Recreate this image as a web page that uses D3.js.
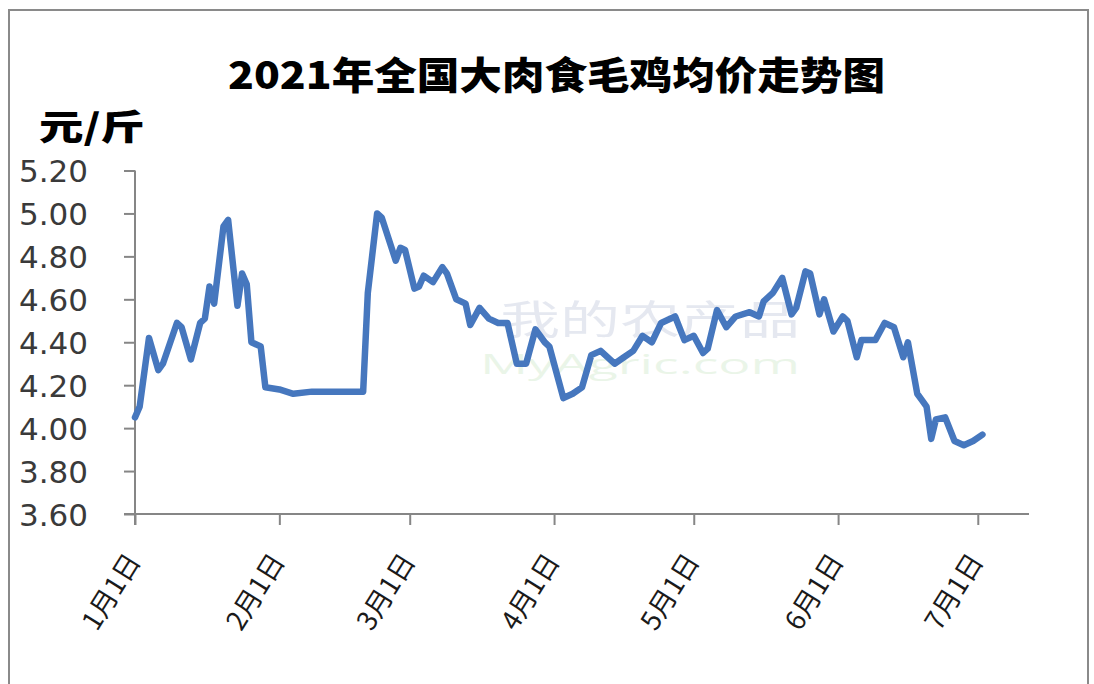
<!DOCTYPE html>
<html>
<head>
<meta charset="utf-8">
<script src="https://cdn.jsdelivr.net/npm/d3@7"></script>
<style>
  html, body { margin: 0; padding: 0; background: #ffffff; }
  svg { display: block; }
</style>
</head>
<body>
<svg id="chart" width="1094" height="684"></svg>
<script>
// ---- data ----
const titleText = "2021年全国大肉食毛鸡均价走势图";
const unitText = "元/斤";
const dates = [
  "2021-01-01","2021-01-02","2021-01-04","2021-01-06","2021-01-07","2021-01-10","2021-01-11","2021-01-13",
  "2021-01-15","2021-01-16","2021-01-17","2021-01-18","2021-01-20","2021-01-21","2021-01-23","2021-01-24",
  "2021-01-25","2021-01-26","2021-01-28","2021-01-29","2021-02-01","2021-02-04","2021-02-08","2021-02-19",
  "2021-02-20","2021-02-22","2021-02-23","2021-02-26","2021-02-27","2021-02-28","2021-03-02","2021-03-03",
  "2021-03-04","2021-03-06","2021-03-08","2021-03-09","2021-03-11","2021-03-13","2021-03-14","2021-03-16",
  "2021-03-18","2021-03-20","2021-03-22","2021-03-24","2021-03-26","2021-03-28","2021-03-30","2021-03-31",
  "2021-04-03","2021-04-05","2021-04-07","2021-04-09","2021-04-11","2021-04-14","2021-04-16","2021-04-18",
  "2021-04-20","2021-04-22","2021-04-24","2021-04-27","2021-04-29","2021-05-01","2021-05-03","2021-05-04",
  "2021-05-06","2021-05-08","2021-05-10","2021-05-13","2021-05-15","2021-05-16","2021-05-18","2021-05-20",
  "2021-05-22","2021-05-23","2021-05-25","2021-05-26","2021-05-28","2021-05-29","2021-05-31","2021-06-02",
  "2021-06-03","2021-06-05","2021-06-06","2021-06-09","2021-06-11","2021-06-13","2021-06-15","2021-06-16",
  "2021-06-18","2021-06-19","2021-06-20","2021-06-21","2021-06-22","2021-06-24","2021-06-26","2021-06-28",
  "2021-06-30","2021-07-02"
];
const prices = [
  4.05,4.10,4.42,4.27,4.30,4.49,4.47,4.32,
  4.49,4.51,4.66,4.58,4.94,4.97,4.57,4.72,
  4.67,4.40,4.38,4.19,4.18,4.16,4.17,4.17,
  4.63,5.00,4.98,4.78,4.84,4.83,4.65,4.66,
  4.71,4.68,4.75,4.72,4.60,4.58,4.48,4.56,
  4.51,4.49,4.49,4.30,4.30,4.46,4.40,4.38,
  4.14,4.16,4.19,4.34,4.36,4.30,4.33,4.36,
  4.43,4.40,4.49,4.52,4.41,4.43,4.35,4.37,
  4.55,4.47,4.52,4.54,4.52,4.59,4.63,4.70,
  4.53,4.56,4.73,4.72,4.53,4.60,4.45,4.52,
  4.50,4.33,4.41,4.41,4.49,4.47,4.33,4.40,
  4.16,4.13,4.10,3.95,4.04,4.05,3.94,3.92,
  3.94,3.97
];
const yTicks = [3.60,3.80,4.00,4.20,4.40,4.60,4.80,5.00,5.20];
const xTickDates = ["2021-01-01","2021-02-01","2021-03-01","2021-04-01","2021-05-01","2021-06-01","2021-07-01"];
const xTickLabels = ["1月1日","2月1日","3月1日","4月1日","5月1日","6月1日","7月1日"];

// ---- layout ----
const parse = d3.utcParse("%Y-%m-%d");
const svg = d3.select("#chart");

svg.append("rect").attr("x",0).attr("y",0).attr("width",1094).attr("height",684).attr("fill","#ffffff");
// outer chart frame
svg.append("rect").attr("x",9).attr("y",10).attr("width",1079).attr("height",690)
  .attr("fill","none").attr("stroke","#8a8a8a").attr("stroke-width",2);

const x = d3.scaleUtc()
  .domain([parse("2021-01-01"), parse("2021-07-12")])
  .range([135, 1029]);
const y = d3.scaleLinear().domain([3.6, 5.2]).range([514, 170.5]);

// watermark (faint)
const wm = svg.append("g").attr("opacity",0.2);
wm.append("text").attr("x",500).attr("y",334).attr("font-family","Noto Sans CJK SC")
  .attr("font-size",40).attr("fill","#7f8fb8")
  .attr("textLength",300).attr("lengthAdjust","spacingAndGlyphs").text("我的农产品");
wm.append("text").attr("x",480).attr("y",374).attr("font-family","Open Sans, sans-serif")
  .attr("font-size",28).attr("fill","#9ccf8f")
  .attr("textLength",320).attr("lengthAdjust","spacingAndGlyphs").text("MyAgric.com");

// title
svg.append("text").attr("x",228).attr("y",89)
  .attr("font-family","'Noto Sans CJK SC', sans-serif").attr("font-weight",900)
  .attr("font-size",38).attr("fill","#000")
  .attr("textLength",657).attr("lengthAdjust","spacingAndGlyphs")
  .text(titleText);

// unit
svg.append("text").attr("x",39).attr("y",140)
  .attr("font-family","'Noto Sans CJK SC', sans-serif").attr("font-weight",900)
  .attr("font-size",35).attr("fill","#000")
  .attr("textLength",106).attr("lengthAdjust","spacingAndGlyphs")
  .text(unitText);

// y axis
const yAxis = d3.axisLeft(y).tickValues(yTicks).tickFormat(d3.format(".2f")).tickSize(11).tickPadding(36);
const gy = svg.append("g").attr("transform","translate(135,0)").call(yAxis);
gy.select(".domain").attr("stroke","#868686").attr("stroke-width",2).attr("d","M0,170.5V525");
gy.selectAll(".tick line").attr("stroke","#868686").attr("stroke-width",2);
gy.selectAll(".tick text").attr("font-family","'DejaVu Sans', Verdana, sans-serif")
  .attr("font-size",31).attr("fill","#3a3a3a").attr("dy","0.36em");

// x axis
const xAxis = d3.axisBottom(x).tickValues(xTickDates.map(parse))
  .tickFormat((d,i) => xTickLabels[i]).tickSize(11).tickSizeOuter(0);
const gx = svg.append("g").attr("transform","translate(0,514)").call(xAxis);
gx.select(".domain").attr("stroke","#868686").attr("stroke-width",2).attr("d","M124,0H1029");
gx.selectAll(".tick line").attr("stroke","#868686").attr("stroke-width",2);
gx.selectAll(".tick text")
  .attr("font-family","'Noto Sans CJK SC', sans-serif").attr("font-size",27).attr("fill","#1a1a1a")
  .attr("text-anchor","end").attr("x",0).attr("y",0).attr("dy","0.35em")
  .attr("transform","translate(-2,42) rotate(-58)");

// line
const pts = dates.map((d,i) => ({date: parse(d), v: prices[i]}));
const line = d3.line().x(d => x(d.date)).y(d => y(d.v));
svg.append("path").datum(pts).attr("d", line)
  .attr("fill","none").attr("stroke","#4677be").attr("stroke-width",6.5)
  .attr("stroke-linejoin","round").attr("stroke-linecap","round");
</script>
</body>
</html>
